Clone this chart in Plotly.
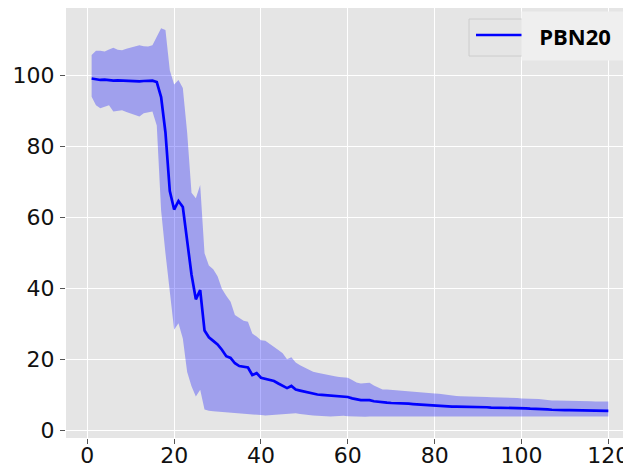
import plotly.graph_objects as go

x_vals = list(range(1, 121))

mean_vals = [
    99.2, 99.0, 98.8, 98.9, 98.7, 98.6, 98.7, 98.6, 98.6, 98.5,
    98.5, 98.4, 98.5, 98.6, 98.6, 98.2, 94.0, 84.0, 67.5, 62.3,
    64.7, 63.0, 54.0, 44.0, 37.0, 39.6, 28.2, 26.3, 25.3, 24.3,
    22.8, 21.0, 20.5, 19.0, 18.2, 18.0, 17.8, 15.7, 16.2, 14.9,
    14.6, 14.5, 14.0, 13.3, 12.6, 12.0, 12.6, 11.6, 11.3, 11.0,
    10.7, 10.4, 10.2, 10.1, 10.0, 9.9, 9.8, 9.7, 9.6, 9.5,
    9.1, 8.8, 8.6, 8.6, 8.6, 8.3, 8.1, 7.9, 7.9, 7.8,
    7.8, 7.7, 7.7, 7.6, 7.5, 7.4, 7.3, 7.2, 7.2, 7.1,
    7.0, 7.0, 6.9, 6.8, 6.8, 6.8, 6.7, 6.7, 6.7, 6.6,
    6.6, 6.6, 6.5, 6.5, 6.5, 6.4, 6.4, 6.4, 6.3, 6.3,
    6.3, 6.2, 6.2, 6.2, 6.1, 6.0, 5.9, 5.8, 5.8, 5.8,
    5.8, 5.8, 5.7, 5.7, 5.7, 5.7, 5.6, 5.7, 5.7, 5.6,
]

upper_vals = [
    105.8, 107.0, 107.0, 106.8, 107.4, 107.9, 107.3, 107.2, 107.6, 107.9,
    108.2, 108.6, 108.3, 108.2, 108.6, 111.0, 113.4, 112.9, 101.5, 97.5,
    98.8, 96.5, 84.0, 67.0, 65.5, 69.2, 50.0, 46.5, 45.5, 43.5,
    40.0, 38.0, 36.3, 32.6, 31.8, 31.0, 30.7, 27.4, 26.5, 25.5,
    25.3, 24.5, 23.7, 22.7, 21.8, 20.1, 20.7, 19.2, 18.4, 17.8,
    17.2, 16.6, 16.3, 16.0, 15.7, 15.5, 15.3, 15.1, 15.0, 14.9,
    14.3, 13.6, 13.3, 13.4, 13.5, 12.7, 12.1, 11.6, 11.6, 11.5,
    11.4, 11.4, 11.3, 11.3, 11.1, 11.0, 10.9, 10.8, 10.6, 10.5,
    10.4, 10.2, 10.0, 9.9, 9.8, 9.7, 9.7, 9.6, 9.6, 9.5,
    9.5, 9.5, 9.4, 9.4, 9.3, 9.3, 9.2, 9.2, 9.2, 9.1,
    9.1, 9.1, 9.0, 8.9, 8.8, 8.6, 8.5, 8.5, 8.5, 8.4,
    8.4, 8.4, 8.3, 8.3, 8.3, 8.3, 8.2, 8.3, 8.2, 8.2,
]

lower_vals = [
    94.1, 91.7, 90.8, 91.2, 91.7, 89.9, 90.2, 90.3, 89.8, 89.4,
    89.0, 88.5, 89.4, 89.6, 89.9, 86.0, 62.0, 50.0, 39.0, 28.4,
    30.3, 26.0, 16.5, 12.5, 9.6, 11.5, 6.0, 5.6, 5.5, 5.4,
    5.2, 5.0, 4.9, 4.8, 4.7, 4.6, 4.5, 4.5, 4.4, 4.4,
    4.3, 4.4, 4.5, 4.6, 4.7, 4.8, 4.9, 4.9, 4.7, 4.5,
    4.4, 4.3, 4.2, 4.1, 4.0, 4.0, 4.1, 4.2, 4.2, 4.1,
    4.0, 4.0, 3.9, 3.9, 4.0, 4.0, 3.9, 3.9, 3.9, 3.9,
    3.9, 3.8, 3.8, 3.9, 3.9, 3.9, 3.9, 3.9, 3.9, 3.8,
    3.8, 3.8, 3.9, 3.9, 3.9, 3.9, 3.9, 3.9, 3.9, 3.9,
    3.9, 3.9, 3.9, 3.9, 3.9, 3.9, 3.9, 3.9, 3.9, 3.9,
    3.9, 3.9, 3.9, 3.9, 3.9, 3.9, 3.9, 3.9, 3.9, 3.9,
    3.9, 3.9, 3.9, 3.9, 3.9, 3.9, 3.9, 3.9, 3.9, 4.0,
]

x_ticks = [0, 20, 40, 60, 80, 100, 120]
y_ticks = [0, 20, 40, 60, 80, 100]
series_name = "PBN20"

# The page body adds an 8px offset, so the figure is 8px smaller and shifted.
OFF = 8
W, H = 631 - OFF, 468 - OFF
ML, MR, MT, MB = 66 - OFF, 0, 8 - OFF, 468 - 438
PW, PH = W - ML - MR, H - MT - MB


def px(xp):
    return (xp - OFF - ML) / PW


def py(yp):
    return (H - MB - (yp - OFF)) / PH


fig = go.Figure()
fig.add_trace(go.Scatter(x=x_vals, y=upper_vals, mode="lines",
                         line=dict(width=0, color="rgba(0,0,255,0)"),
                         showlegend=False, hoverinfo="skip"))
fig.add_trace(go.Scatter(x=x_vals, y=lower_vals, mode="lines",
                         line=dict(width=0, color="rgba(0,0,255,0)"),
                         fill="tonexty", fillcolor="rgba(0,0,255,0.3)",
                         showlegend=False, hoverinfo="skip"))
fig.add_trace(go.Scatter(x=x_vals, y=mean_vals, mode="lines",
                         line=dict(width=2.7, color="#0000ff"),
                         name=series_name, showlegend=False))

axis_common = dict(
    showgrid=True, gridcolor="#ffffff", gridwidth=1.2,
    zeroline=False, showline=False, automargin=False,
    ticks="outside", ticklen=5, tickwidth=1.2, tickcolor="#555555",
    tickfont=dict(family="DejaVu Sans", size=22, color="#111111"),
)

fig.update_layout(
    width=W, height=H,
    margin=dict(l=ML, r=MR, t=MT, b=MB, pad=0),
    paper_bgcolor="#ffffff",
    plot_bgcolor="#e5e5e5",
    xaxis=dict(range=[-4.905, 125.22], tickvals=x_ticks,
               ticktext=[str(v) for v in x_ticks], ticklabelstandoff=-7,
               **axis_common),
    yaxis=dict(range=[-2.06, 119.07], tickvals=y_ticks,
               ticktext=[str(v) for v in y_ticks], ticklabelstandoff=1,
               **axis_common),
    showlegend=False,
    shapes=[
        dict(type="rect", xref="paper", yref="paper",
             x0=px(469), x1=px(650), y0=py(56), y1=py(19),
             fillcolor="#e5e5e5", line=dict(color="#cccccc", width=1),
             layer="above"),
        dict(type="line", xref="paper", yref="paper",
             x0=px(476), x1=px(522), y0=py(35), y1=py(35),
             line=dict(color="#0000ff", width=2.5), layer="above"),
    ],
    annotations=[
        dict(text="<b>" + series_name + "</b>", xref="paper", yref="paper",
             x=px(521), y=py(36), xanchor="left", yanchor="middle",
             showarrow=False, width=104, height=46, align="center",
             bgcolor="#efefef", borderpad=1,
             font=dict(family="Open Sans", size=22, color="#000000")),
    ],
)

fig.write_html("out.html")
